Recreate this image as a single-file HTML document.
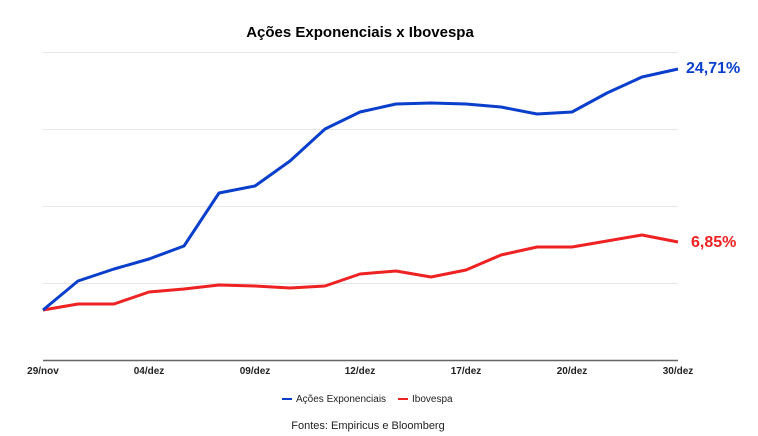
<!DOCTYPE html>
<html><head><meta charset="utf-8"><style>
body{margin:0;background:#fff;}
svg{display:block;font-family:"Liberation Sans",Arial,sans-serif;}
</style></head><body>
<svg width="758" height="436" viewBox="0 0 758 436">
<text x="360" y="37" text-anchor="middle" font-size="15" font-weight="bold" fill="#000">Ações Exponenciais x Ibovespa</text>
<g stroke="#e6e6e6" stroke-width="1">
<line x1="43" y1="52.5" x2="678" y2="52.5"/>
<line x1="43" y1="129.5" x2="678" y2="129.5"/>
<line x1="43" y1="206.5" x2="678" y2="206.5"/>
<line x1="43" y1="283.5" x2="678" y2="283.5"/>
</g>
<line x1="43" y1="360.5" x2="678" y2="360.5" stroke="#666" stroke-width="1.5"/>
<polyline fill="none" stroke="#ee2222" stroke-width="3" stroke-linejoin="round" points="43,310 78,304 114,304 149,292 184,289 219,285 255,286 290,288 325,286 360,274 396,271 431,277 466,270 501,255 537,247 572,247 607,241 642,235 678,242"/>
<polyline fill="none" stroke="#0a3fcc" stroke-width="3" stroke-linejoin="round" points="43,310 78,281 114,269 149,259 184,246 219,193 255,186 290,161 325,129 360,112 396,104 431,103 466,104 501,107 537,114 572,112 607,93 642,77 678,69"/>
<g font-size="10" font-weight="bold" fill="#222" text-anchor="middle">
<text x="43" y="374">29/nov</text>
<text x="149" y="374">04/dez</text>
<text x="255" y="374">09/dez</text>
<text x="360" y="374">12/dez</text>
<text x="466" y="374">17/dez</text>
<text x="572" y="374">20/dez</text>
<text x="678" y="374">30/dez</text>
</g>
<text x="686" y="73" font-size="16" font-weight="bold" fill="#0a3fcc">24,71%</text>
<text x="691" y="247" font-size="16" font-weight="bold" fill="#ee2222">6,85%</text>
<line x1="282" y1="399" x2="292" y2="399" stroke="#0a3fcc" stroke-width="2"/>
<text x="296" y="402" font-size="10" fill="#222">Ações Exponenciais</text>
<line x1="398" y1="399" x2="408" y2="399" stroke="#ee2222" stroke-width="2"/>
<text x="412" y="402" font-size="10" fill="#222">Ibovespa</text>
<text x="368" y="429" text-anchor="middle" font-size="11" fill="#222">Fontes: Empiricus e Bloomberg</text>
</svg>
</body></html>
